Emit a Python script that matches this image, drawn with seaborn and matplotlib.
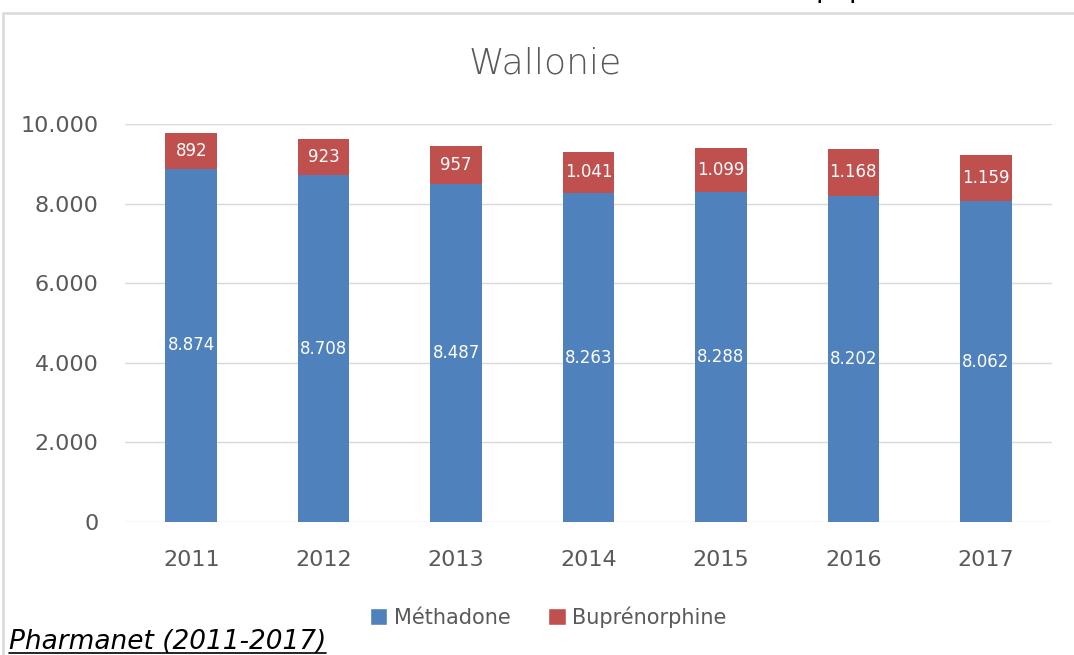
import pandas as pd
import matplotlib.pyplot as plt
import seaborn as sns
from matplotlib.lines import Line2D
from matplotlib.patches import Rectangle, Patch

years = ["2011", "2012", "2013", "2014", "2015", "2016", "2017"]
methadone = [8874, 8708, 8487, 8263, 8288, 8202, 8062]
buprenorphine = [892, 923, 957, 1041, 1099, 1168, 1159]
series_names = ["Méthadone", "Buprénorphine"]
yticks = [0, 2000, 4000, 6000, 8000, 10000]
title = "Wallonie"
source = "Pharmanet (2011-2017)"

BLUE = "#4F81BD"
RED = "#C0504D"
GREY = "#595959"


def fmt(v):
    return f"{v:,}".replace(",", ".")


sns.set_theme(style="white")
plt.rcParams["font.family"] = ["DejaVu Sans"]

W, H = 1074, 655
fig = plt.figure(figsize=(W / 100, H / 100), dpi=100)
ax = fig.add_axes([125 / W, 1 - 522 / H, 927 / W, (522 - 124) / H])

df = pd.DataFrame({"year": years, "met": methadone, "bup": buprenorphine})
df["total"] = df["met"] + df["bup"]

# stacked: totals in red first, methadone in blue on top
sns.barplot(data=df, x="year", y="total", color=RED, saturation=1,
            width=0.39, linewidth=0, ax=ax, zorder=3)
sns.barplot(data=df, x="year", y="met", color=BLUE, saturation=1,
            width=0.39, linewidth=0, ax=ax, zorder=4)

for i, (m, b) in enumerate(zip(methadone, buprenorphine)):
    ax.text(i, m / 2, fmt(m), ha="center", va="center", color="white",
            fontsize=12, zorder=5)
    ax.text(i, m + b / 2, fmt(b), ha="center", va="center", color="white",
            fontsize=12, zorder=5)

ax.set_xlim(-0.5, len(years) - 0.5)
ax.set_ylim(0, 10000)
ax.set_yticks(yticks)
ax.set_yticklabels([fmt(v) for v in yticks])
ax.set_xlabel("")
ax.set_ylabel("")
ax.grid(axis="y", color="#D9D9D9", lw=1, zorder=0)
ax.grid(axis="x", visible=False)
for s in ax.spines.values():
    s.set_visible(False)
ax.tick_params(axis="y", length=0, pad=19, labelsize=16, labelcolor=GREY)
ax.tick_params(axis="x", length=0, pad=20, labelsize=16, labelcolor=GREY)

fig.text(545 / W, 1 - 63 / H, title, ha="center", va="center",
         fontsize=26, color=GREY, fontweight="light")

handles = [Patch(facecolor=BLUE), Patch(facecolor=RED)]
fig.legend(handles, series_names, loc="center", bbox_to_anchor=(548 / W, 1 - 617 / H),
           ncol=2, frameon=False, fontsize=15, handlelength=0.85, handleheight=0.85,
           handletextpad=0.3, columnspacing=1.8, labelcolor=GREY)

# outer chart frame
fig.patches.append(Rectangle((3 / W, -0.1), 1.1, 1.1 - 13 / H, transform=fig.transFigure,
                             fill=False, edgecolor="#D9D9D9", lw=1.8, clip_on=False))

# source note, italic and underlined
src = fig.text(9 / W, 1 - 649 / H, source, ha="left", va="baseline",
               fontsize=19, style="italic", color="black")
fig.canvas.draw()
bb = src.get_window_extent()
fig.add_artist(Line2D([bb.x0 / W, bb.x1 / W], [2.5 / H, 2.5 / H],
                      transform=fig.transFigure, color="black", lw=1.2))

# text fragment cut by the top edge
for px in (815, 848):
    fig.text(px / W, 1 + 3 / H, "p", ha="left", va="baseline",
             fontsize=20, color="black")

fig.savefig("out.png", dpi=100)
